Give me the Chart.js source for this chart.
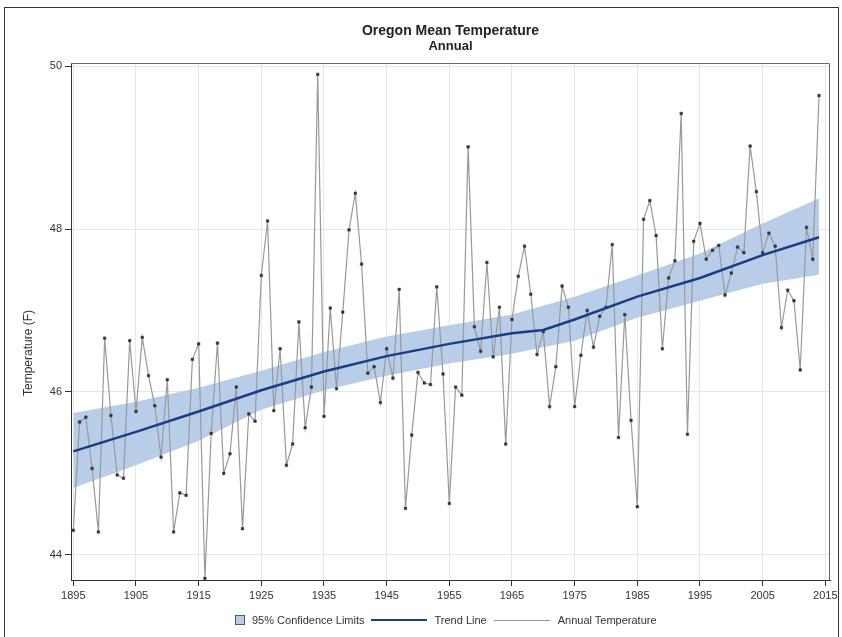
<!DOCTYPE html>
<html>
<head>
<meta charset="utf-8">
<title>Oregon Mean Temperature</title>
<script src="https://cdn.jsdelivr.net/npm/chart.js@4/dist/chart.umd.min.js"></script>
<style>
    body { margin: 0; background: #fff; overflow: hidden; font-family: 'Liberation Sans', Arial, sans-serif; color: #222; }
    #wrap { position: relative; width: 842px; height: 637px; overflow: hidden; }
    #chart { position: absolute; left: 0; top: 0; }
    .frame { position: absolute; left: 4px; top: 7px; width: 833px; height: 700px; border: 1px solid #333; pointer-events: none; }
    .title { position: absolute; left: 71px; width: 759px; text-align: center; font-weight: bold; }
    #title1 { top: 22px; font-size: 14px; line-height: 16px; }
    #title2 { top: 38px; font-size: 13px; line-height: 15px; }
    .ytitle { position: absolute; left: 28px; top: 353px; font-size: 12px; line-height: 14px; color: #333; white-space: nowrap; transform: translate(-50%, -50%) rotate(-90deg); }
    .legend { position: absolute; left: 235px; top: 613px; height: 14px; display: flex; align-items: center; font-size: 11px; color: #333; }
    .legend .box { width: 8px; height: 8px; background: #b7cde8; border: 1px solid #555; margin-right: 7px; }
    .legend .line { width: 56px; margin-right: 8px; }
    .legend .txt { margin-right: 6px; white-space: nowrap; }
</style>
</head>
<body>
<div id="wrap">
    <canvas id="chart" width="842" height="637"></canvas>
    <div class="frame"></div>
    <div class="title" id="title1">Oregon Mean Temperature</div>
    <div class="title" id="title2">Annual</div>
    <div class="ytitle">Temperature (F)</div>
    <div class="legend">
        <span class="box"></span><span class="txt">95% Confidence Limits</span>
        <span class="line" style="border-top: 2.5px solid #173f85;"></span><span class="txt" style="margin-right:7px">Trend Line</span>
        <span class="line" style="border-top: 1px solid #999;"></span><span class="txt">Annual Temperature</span>
    </div>
</div>
<script>
// Annual mean temperature (F), one value per year starting at 1895
const firstYear = 1895;
const annualTemp = [
    44.30, 45.63, 45.69, 45.06, 44.28, 46.66, 45.71, 44.98, 44.94, 46.63,
    45.76, 46.67, 46.20, 45.83, 45.20, 46.15, 44.28, 44.76, 44.73, 46.40,
    46.59, 43.71, 45.49, 46.60, 45.00, 45.24, 46.06, 44.32, 45.73, 45.64,
    47.43, 48.10, 45.77, 46.53, 45.10, 45.36, 46.86, 45.56, 46.06, 49.90,
    45.70, 47.03, 46.04, 46.98, 47.99, 48.44, 47.57, 46.23, 46.31, 45.87,
    46.53, 46.17, 47.26, 44.57, 45.47, 46.24, 46.11, 46.09, 47.29, 46.22,
    44.63, 46.06, 45.96, 49.01, 46.80, 46.50, 47.59, 46.43, 47.04, 45.36,
    46.89, 47.42, 47.79, 47.20, 46.46, 46.74, 45.82, 46.31, 47.30, 47.04,
    45.82, 46.45, 47.00, 46.55, 46.93, 47.04, 47.81, 45.44, 46.95, 45.65,
    44.59, 48.12, 48.35, 47.92, 46.53, 47.40, 47.61, 49.42, 45.48, 47.85,
    48.07, 47.63, 47.74, 47.80, 47.19, 47.46, 47.78, 47.71, 49.02, 48.46,
    47.71, 47.95, 47.79, 46.79, 47.25, 47.12, 46.27, 48.02, 47.63, 49.64
];

// Trend line
const trendYears = [1895, 1905, 1915, 1925, 1935, 1945, 1955, 1965, 1970, 1975, 1985, 1995, 2005, 2014];
const trendValues = [45.27, 45.51, 45.76, 46.02, 46.25, 46.44, 46.59, 46.72, 46.76, 46.89, 47.17, 47.40, 47.68, 47.90];

// 95% confidence band
const ciYears = [1895, 1905, 1915, 1925, 1935, 1945, 1955, 1965, 1975, 1985, 1995, 2005, 2014];
const ciUpper = [45.74, 45.88, 46.05, 46.26, 46.49, 46.68, 46.82, 46.95, 47.17, 47.43, 47.70, 48.07, 48.38];
const ciLower = [44.82, 45.10, 45.40, 45.78, 46.02, 46.20, 46.35, 46.47, 46.63, 46.91, 47.12, 47.33, 47.44];

const xTicks = [1895, 1905, 1915, 1925, 1935, 1945, 1955, 1965, 1975, 1985, 1995, 2005, 2015];
const yTicks = [44, 46, 48, 50];

Chart.defaults.font.family = "'Liberation Sans', Arial, sans-serif";
Chart.defaults.color = '#333';

// top and right edges of the plot box
const plotFrame = {
    id: 'plotFrame',
    afterDraw(chart) {
        const { ctx, chartArea: a } = chart;
        ctx.save();
        ctx.strokeStyle = '#666';
        ctx.lineWidth = 1;
        ctx.beginPath();
        ctx.moveTo(a.left, Math.round(a.top) + 0.5);
        ctx.lineTo(Math.round(a.right) - 0.5, Math.round(a.top) + 0.5);
        ctx.lineTo(Math.round(a.right) - 0.5, a.bottom);
        ctx.stroke();
        ctx.restore();
    }
};

const toPoints = (xs, ys) => ys.map((v, i) => ({ x: xs[i], y: v }));
const years = annualTemp.map((_, i) => firstYear + i);

new Chart(document.getElementById('chart').getContext('2d'), {
    type: 'line',
    data: {
        datasets: [
            {
                label: 'Trend Line',
                data: toPoints(trendYears, trendValues),
                borderColor: '#173f85',
                borderWidth: 2.5,
                pointRadius: 0,
                fill: false
            },
            {
                label: 'Annual Temperature',
                data: toPoints(years, annualTemp),
                borderColor: '#999',
                borderWidth: 1.2,
                pointStyle: 'rect',
                pointRadius: 1.8,
                pointBackgroundColor: '#333',
                pointBorderColor: '#333',
                pointBorderWidth: 0.5,
                fill: false
            },
            {
                label: '95% Confidence Limits',
                data: toPoints(ciYears, ciUpper),
                borderWidth: 0,
                borderColor: 'rgba(0,0,0,0)',
                backgroundColor: '#b7cde8',
                pointRadius: 0,
                fill: '+1'
            },
            {
                label: 'lower',
                data: toPoints(ciYears, ciLower),
                borderWidth: 0,
                borderColor: 'rgba(0,0,0,0)',
                pointRadius: 0,
                fill: false
            }
        ]
    },
    options: {
        responsive: false,
        animation: false,
        layout: { padding: { top: 63, right: 12, left: 0, bottom: 0 } },
        plugins: {
            legend: { display: false },
            tooltip: { enabled: false }
        },
        scales: {
            x: {
                type: 'linear',
                min: 1894.63,
                max: 2015.75,
                afterBuildTicks: s => { s.ticks = xTicks.map(v => ({ value: v })); },
                afterFit: s => { s.height = 57; },
                grid: { color: '#e6e6e6', tickColor: '#333', tickLength: 6 },
                border: { color: '#333' },
                ticks: { font: { size: 11 }, padding: 3, maxRotation: 0, autoSkip: false, callback: v => String(v) }
            },
            y: {
                type: 'linear',
                min: 43.69,
                max: 50.04,
                afterBuildTicks: s => { s.ticks = yTicks.map(v => ({ value: v })); },
                afterFit: s => { s.width = 71; },
                grid: { color: '#e6e6e6', tickColor: '#333', tickLength: 6 },
                border: { color: '#333' },
                ticks: { font: { size: 11 }, padding: 3, callback: v => String(v) }
            }
        }
    },
    plugins: [plotFrame]
});
</script>
</body>
</html>
